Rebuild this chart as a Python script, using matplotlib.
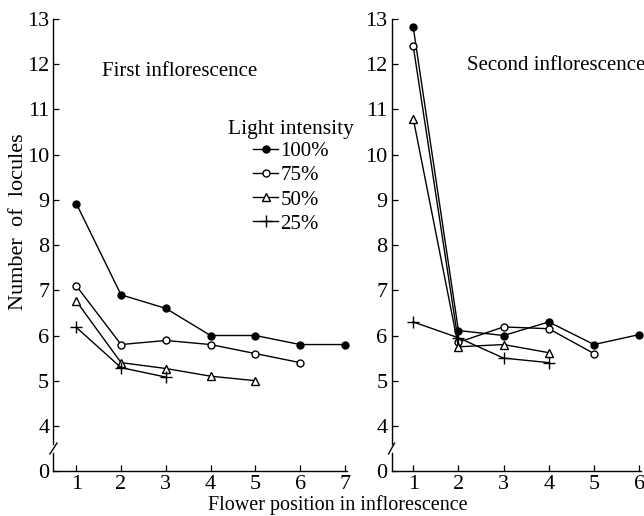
import numpy as np
import matplotlib.pyplot as plt

plt.rcParams['font.family'] = ['Liberation Serif', 'DejaVu Serif']

# axis value 3 stands for the broken "0" tick
ytick_vals = [3, 4, 5, 6, 7, 8, 9, 10, 11, 12, 13]
ytick_labels = ['0', '4', '5', '6', '7', '8', '9', '10', '11', '12', '13']

labels = ['100%', '75%', '50%', '25%']

# first inflorescence
first_x = {
    '100%': [1, 2, 3, 4, 5, 6, 7],
    '75%': [1, 2, 3, 4, 5, 6],
    '50%': [1, 2, 3, 4, 5],
    '25%': [1, 2, 3],
}
first_y = {
    '100%': [8.92, 6.9, 6.6, 6.0, 6.0, 5.8, 5.8],
    '75%': [7.1, 5.8, 5.89, 5.8, 5.6, 5.4],
    '50%': [6.76, 5.4, 5.27, 5.1, 5.0],
    '25%': [6.18, 5.29, 5.08],
}

# second inflorescence
second_x = {
    '100%': [1, 2, 3, 4, 5, 6],
    '75%': [1, 2, 3, 4, 5],
    '50%': [1, 2, 3, 4],
    '25%': [1, 2, 3, 4],
}
second_y = {
    '100%': [12.82, 6.11, 6.0, 6.3, 5.8, 6.02],
    '75%': [12.4, 5.85, 6.19, 6.15, 5.6],
    '50%': [10.8, 5.75, 5.8, 5.62],
    '25%': [6.3, 5.95, 5.5, 5.4],
}

styles = {
    '100%': dict(marker='o', markerfacecolor='black', markersize=5),
    '75%': dict(marker='o', markerfacecolor='white', markersize=5),
    '50%': dict(marker='^', markerfacecolor='white', markersize=6),
    '25%': dict(marker='+', markersize=8, markeredgewidth=1.0),
}

fig = plt.figure(figsize=(6.44, 5.16), dpi=100)
ax1 = fig.add_axes([0.083, 0.087, 0.456, 0.876])
ax2 = fig.add_axes([0.608, 0.087, 0.388, 0.876])


def style_axis(ax, xmax_tick, xlim):
    ax.set_xlim(*xlim)
    ax.set_ylim(3, 13)
    ax.set_yticks(ytick_vals)
    ax.set_yticklabels(ytick_labels)
    ax.set_xticks(range(1, xmax_tick + 1))
    for s in ['top', 'right', 'left']:
        ax.spines[s].set_visible(False)
    ax.spines['bottom'].set_linewidth(1.0)
    ax.tick_params(direction='in', length=4, width=0.9, labelsize=16)
    ax.tick_params(axis='y', pad=3)
    ax.tick_params(axis='x', pad=3)
    # left spine drawn by hand with a break between 0 and 4
    trans = ax.get_yaxis_transform()
    ax.plot([0, 0], [3, 3.4], color='black', lw=1.0, transform=trans, clip_on=False)
    ax.plot([0, 0], [3.6, 13], color='black', lw=1.0, transform=trans, clip_on=False)
    ax.plot([-0.012, 0.012], [3.38, 3.62], color='black', lw=1.0, transform=trans, clip_on=False)


for lab in labels:
    ax1.plot(first_x[lab], first_y[lab], color='black', lw=1.0,
             markeredgecolor='black', label=lab, clip_on=False, **styles[lab])
    ax2.plot(second_x[lab], second_y[lab], color='black', lw=1.0,
             markeredgecolor='black', label=lab, clip_on=False, **styles[lab])

style_axis(ax1, 7, (0.49, 7.05))
style_axis(ax2, 6, (0.52, 6.05))

ax1.text(0.165, 0.885, 'First inflorescence', transform=ax1.transAxes,
         fontsize=15, va='center')
ax2.text(0.30, 0.898, 'Second inflorescence', transform=ax2.transAxes,
         fontsize=15, va='center')

leg = ax1.legend(loc='upper center', bbox_to_anchor=(0.81, 0.80), frameon=False,
                 title='Light intensity', fontsize=15, title_fontsize=15.5,
                 handlelength=1.2, handletextpad=0.1, labelspacing=0.22,
                 borderpad=0, alignment='center')
leg._legend_box.sep = 2

fig.text(0.028, 0.57, 'Number  of  locules', rotation=90, ha='center',
         va='center', fontsize=16)
fig.text(0.525, 0.0116, 'Flower position in inflorescence', ha='center',
         va='baseline', fontsize=14.5)

plt.savefig('out.png', dpi=100)
